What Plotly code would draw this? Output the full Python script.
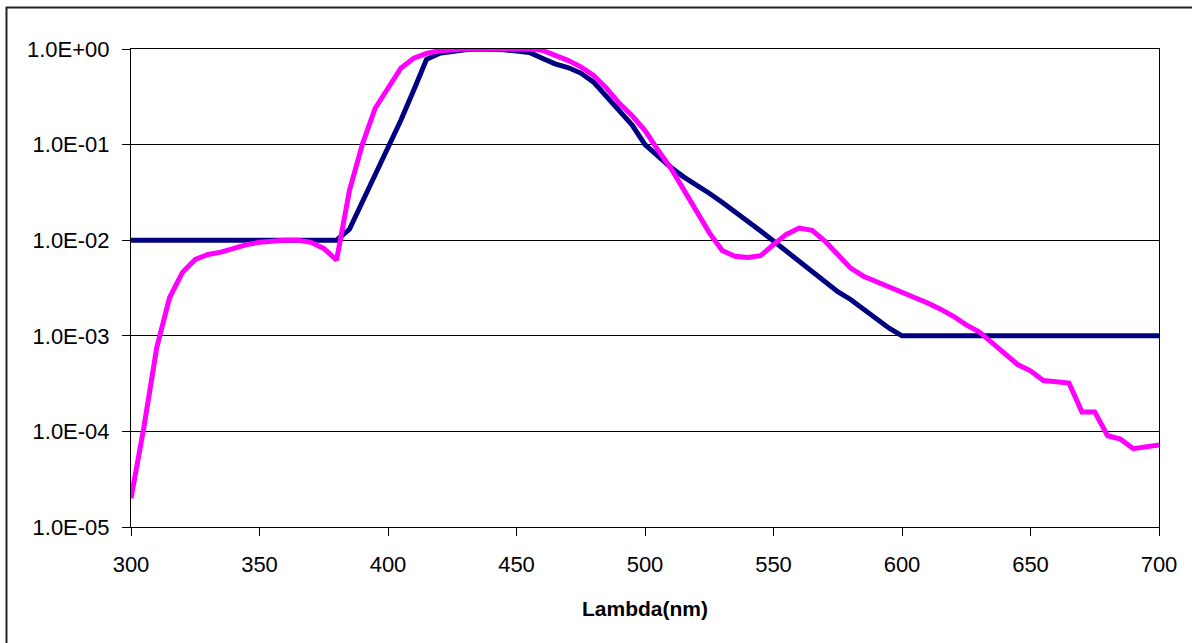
import plotly.graph_objects as go

wavelength = list(range(300, 705, 5))

navy_values = [
    0.01, 0.01, 0.01, 0.01, 0.01, 0.01, 0.01, 0.01, 0.01, 0.01,   # 300-345
    0.01, 0.01, 0.01, 0.01, 0.01, 0.01, 0.01,                     # 350-380
    0.013, 0.025, 0.048, 0.09, 0.18, 0.37, 0.78,                  # 385-415
    0.9, 0.95, 0.98, 1.0, 1.0, 0.98, 0.95, 0.92,                  # 420-455
    0.8, 0.7, 0.64, 0.56, 0.45, 0.32, 0.22, 0.16,                 # 460-495
    0.1, 0.075, 0.058, 0.046, 0.038, 0.031, 0.025, 0.02,          # 500-535
    0.016, 0.0125, 0.0098, 0.0077, 0.006, 0.0047, 0.0037, 0.0029, # 540-575
    0.0024, 0.0019, 0.0015, 0.0012, 0.001,                        # 580-600
    0.001, 0.001, 0.001, 0.001, 0.001, 0.001, 0.001, 0.001,       # 605-640
    0.001, 0.001, 0.001, 0.001, 0.001, 0.001, 0.001, 0.001,       # 645-680
    0.001, 0.001, 0.001, 0.001,                                   # 685-700
]

magenta_values = [
    2e-5, 1.1e-4, 7.5e-4, 0.0025, 0.0046, 0.0063, 0.0071, 0.0075,  # 300-335
    0.0082, 0.009, 0.0095, 0.0098, 0.01, 0.01, 0.0095, 0.0082,     # 340-375
    0.0062, 0.033, 0.10, 0.24, 0.40, 0.63, 0.8, 0.9,               # 380-415
    0.96, 0.99, 1.0, 1.0, 1.0, 1.0, 1.0, 1.0,                      # 420-455
    0.97, 0.87, 0.76, 0.65, 0.53, 0.39, 0.27, 0.2,                 # 460-495
    0.14, 0.088, 0.057, 0.034, 0.02, 0.012, 0.0078, 0.0068,        # 500-535
    0.0066, 0.0069, 0.009, 0.0115, 0.0134, 0.0127, 0.0098, 0.0071, # 540-575
    0.0051, 0.0042, 0.0037, 0.0033, 0.0029, 0.0025, 0.0022, 0.0019,# 580-615
    0.0016, 0.0013, 0.0011, 0.00085, 0.00066, 0.0005, 0.00043, 0.00034, # 620-655
    0.00033, 0.00032, 0.00016, 0.00016, 9e-5, 8.3e-5, 6.6e-5, 6.9e-5,   # 660-695
    7.2e-5,                                                        # 700
]

y_tick_values = [1e-5, 1e-4, 1e-3, 1e-2, 1e-1, 1e0]
y_tick_labels = ["1.0E-05", "1.0E-04", "1.0E-03", "1.0E-02", "1.0E-01", "1.0E+00"]
x_tick_values = [300, 350, 400, 450, 500, 550, 600, 650, 700]

fig = go.Figure()
fig.add_trace(go.Scatter(x=wavelength, y=navy_values, mode="lines",
                         line=dict(color="#000080", width=5), showlegend=False))
fig.add_trace(go.Scatter(x=wavelength, y=magenta_values, mode="lines",
                         line=dict(color="#FF00FF", width=5), showlegend=False))

font_family = "Liberation Sans, Arial, sans-serif"

# plot area spans x 131..1159, y 49..527 of the page (body margin removed below)
fig.update_layout(
    width=1192, height=643, autosize=False,
    margin=dict(l=131, r=33, t=49, b=116, pad=0),
    paper_bgcolor="white", plot_bgcolor="white",
    font=dict(family=font_family, size=22, color="black"),
    xaxis=dict(
        range=[300, 700], tickvals=x_tick_values,
        ticks="outside", ticklen=8, tickcolor="black", tickwidth=1,
        ticklabelstandoff=10,
        showline=True, linecolor="black", linewidth=1, mirror=True,
        showgrid=False, zeroline=False,
        tickfont=dict(size=22, family=font_family, color="black"),
        title=dict(text="<b>Lambda(nm)</b>", font=dict(size=21, family=font_family, color="black"), standoff=24),
    ),
    yaxis=dict(
        type="log", range=[-5, 0],
        tickvals=y_tick_values, ticktext=y_tick_labels,
        ticks="outside", ticklen=8, tickcolor="black", tickwidth=1,
        ticklabelstandoff=8,
        showline=True, linecolor="black", linewidth=1, mirror=True,
        showgrid=True, gridcolor="black", gridwidth=1,
        zeroline=False,
        tickfont=dict(size=22, family=font_family, color="black"),
    ),
    shapes=[dict(type="rect", xref="paper", yref="paper",
                 x0=(6.5 - 131) / 1028, x1=1.1, y0=-0.3, y1=(527 - 7.5) / 478,
                 line=dict(color="#222222", width=2), fillcolor="rgba(0,0,0,0)", layer="below")],
)

fig.write_html("out.html",
               config={"displayModeBar": False, "staticPlot": True},
               post_script="document.body.style.margin='0';document.body.style.padding='0';")
